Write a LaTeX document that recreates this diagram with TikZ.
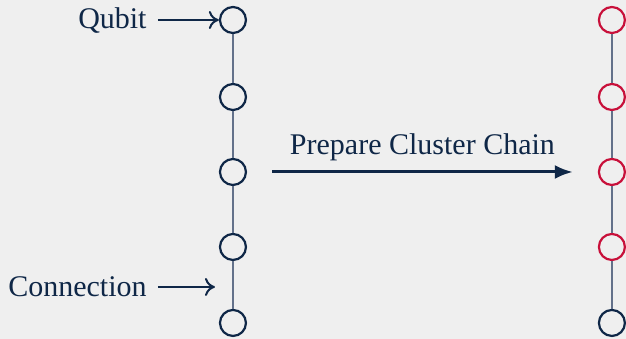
\documentclass[tikz,border=0pt]{standalone}
\usepackage{fontspec}
\setmainfont{Liberation Serif}
\usetikzlibrary{arrows.meta}
\definecolor{navy}{HTML}{0F2747}
\definecolor{crimson}{HTML}{C8103A}
\definecolor{linkgray}{HTML}{63718A}
\definecolor{bggray}{HTML}{EFEFEF}

\begin{document}
\begin{tikzpicture}[x=0.5pt,y=-0.5pt,
    qubit/.style={circle,draw=navy,line width=1.1pt,minimum size=13pt,inner sep=0pt},
    redqubit/.style={qubit,draw=crimson},
    link/.style={draw=linkgray,line width=0.7pt},
    lbl/.style={text=navy,font=\fontsize{15}{18}\selectfont,inner sep=0pt},
    pointer/.style={draw=navy,line width=1pt,-{To[length=5pt,width=9pt]}},
    flow/.style={draw=navy,line width=1.5pt,-{Latex[length=9pt,width=7pt]},shorten <=12.5pt,shorten >=12.5pt}]
        \fill[bggray] (0,0) rectangle (626,339);
        % chain before and after preparation
        \foreach \i/\y in {1/20,2/97,3/172,4/247,5/323} {
            \node[qubit] (l\i) at (233,\y) {};
          }
        \foreach \i/\y in {1/20,2/97,3/172,4/247} {
            \node[redqubit] (r\i) at (612,\y) {};
          }
        \node[qubit] (r5) at (612,323) {};
        \foreach \i/\j in {1/2,2/3,3/4,4/5} {
            \draw[link] (l\i) -- (l\j);
            \draw[link] (r\i) -- (r\j);
          }
        % labels
        \node[lbl,anchor=base east] (qb) at (147,28) {Qubit};
        \node[lbl,anchor=base east] (cx) at (147,297) {Connection};
        \coordinate (cn) at (215,287);
        \draw[pointer] (158,20) -- (l1);
        \draw[pointer] (158,287) -- (cn);
        \draw[flow] (l3) -- node[lbl,above=5pt] (pc) {Prepare Cluster Chain} (r3);
      \end{tikzpicture}
\end{document}
